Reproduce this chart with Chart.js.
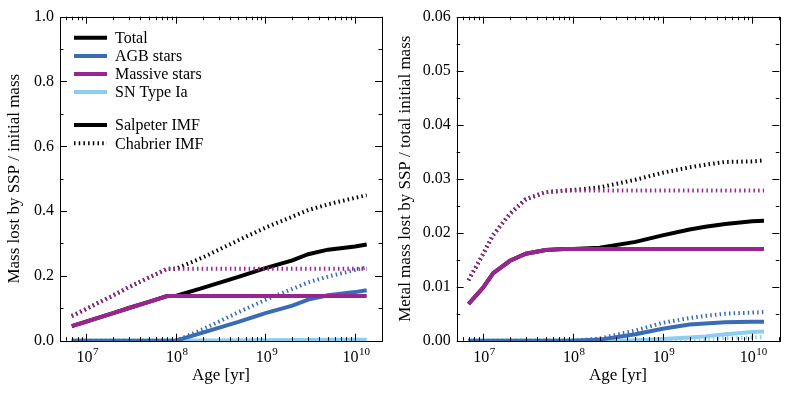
<!DOCTYPE html>
<html>
<head>
<meta charset="utf-8">
<script src="https://cdn.jsdelivr.net/npm/chart.js@4"></script>
<style>
  html, body { margin: 0; padding: 0; background: #fff; }
  #wrap { position: relative; width: 789px; height: 394px; }
  .panel { position: absolute; top: 0; }
</style>
</head>
<body>
<div id="wrap">
  <div class="panel" style="left:0px"><canvas id="massChart" width="395" height="394"></canvas></div>
  <div class="panel" style="left:395px"><canvas id="metalChart" width="394" height="394"></canvas></div>
</div>
<script>
// ages of the SSP [yr]
const ages = [6.9e6, 1e7, 1.3e7, 2e7, 3e7, 5e7, 8e7, 1e8, 2e8, 5e8, 1e9, 2e9, 3e9, 5e9, 1e10, 1.35e10];

// left panel: mass lost / initial mass
const massSalTotal   = [0.045, 0.059, 0.069, 0.085, 0.101, 0.120, 0.138, 0.138, 0.163, 0.197, 0.224, 0.248, 0.267, 0.281, 0.291, 0.297];
const massSalAGB     = [0, 0, 0, 0, 0, 0, 0, 0, 0.025, 0.058, 0.085, 0.108, 0.127, 0.140, 0.150, 0.156];
const massSalMassive = [0.045, 0.059, 0.069, 0.085, 0.101, 0.120, 0.138, 0.138, 0.138, 0.138, 0.138, 0.138, 0.138, 0.138, 0.138, 0.138];
const massSalSNIa    = [0, 0, 0, 0, 0, 0, 0, 0, 0.0003, 0.0008, 0.0012, 0.0018, 0.0022, 0.0026, 0.0030, 0.0032];
const massChaTotal   = [0.076, 0.098, 0.114, 0.140, 0.165, 0.195, 0.222, 0.222, 0.257, 0.310, 0.349, 0.383, 0.403, 0.421, 0.441, 0.449];
const massChaAGB     = [0, 0, 0, 0, 0, 0, 0, 0, 0.035, 0.088, 0.126, 0.160, 0.180, 0.198, 0.218, 0.226];
const massChaMassive = [0.076, 0.098, 0.114, 0.140, 0.165, 0.195, 0.222, 0.222, 0.222, 0.222, 0.222, 0.222, 0.222, 0.222, 0.222, 0.222];
const massChaSNIa    = [0, 0, 0, 0, 0, 0, 0, 0, 0.0001, 0.0003, 0.0005, 0.0008, 0.0010, 0.0012, 0.0014, 0.0015];

// right panel: metal mass lost / total initial mass
const metSalTotal   = [0.0068, 0.0098, 0.0125, 0.0148, 0.0161, 0.0168, 0.0170, 0.0170, 0.0172, 0.0183, 0.0195, 0.0206, 0.0211, 0.0216, 0.0221, 0.0222];
const metSalAGB     = [0, 0, 0, 0, 0, 0, 0, 0, 0.0002, 0.0012, 0.0022, 0.0030, 0.0032, 0.0034, 0.0035, 0.0035];
const metSalMassive = [0.0068, 0.0098, 0.0125, 0.0148, 0.0161, 0.0168, 0.0170, 0.0170, 0.0170, 0.0170, 0.0170, 0.0170, 0.0170, 0.0170, 0.0170, 0.0170];
const metSalSNIa    = [0, 0, 0, 0, 0, 0, 0, 0, 0, 0.0001, 0.0003, 0.0006, 0.0008, 0.0012, 0.0016, 0.0017];
const metChaTotal   = [0.0112, 0.0160, 0.0196, 0.0235, 0.0262, 0.0275, 0.0278, 0.0279, 0.0284, 0.0298, 0.0311, 0.0321, 0.0326, 0.0331, 0.0332, 0.0334];
const metChaAGB     = [0, 0, 0, 0, 0, 0, 0, 0, 0.0004, 0.0019, 0.0033, 0.0042, 0.0046, 0.0050, 0.0052, 0.0053];
const metChaMassive = [0.0112, 0.0160, 0.0196, 0.0235, 0.0262, 0.0275, 0.0278, 0.0278, 0.0278, 0.0278, 0.0278, 0.0278, 0.0278, 0.0278, 0.0278, 0.0278];
const metChaSNIa    = [0, 0, 0, 0, 0, 0, 0, 0, 0, 0, 0.0001, 0.0002, 0.0003, 0.0005, 0.0006, 0.0007];

// x tick labels: 10^n
const ageTicks = [1e7, 1e8, 1e9, 1e10];
const ageTickExp = ['7', '8', '9', '10'];

const legendLabels = ['Total', 'AGB stars', 'Massive stars', 'SN Type Ia', '', 'Salpeter IMF', 'Chabrier IMF'];

const BLACK = '#000000', BLUE = '#3a6cb5', PURPLE = '#9a2590', LIGHT = '#8ccdf0';
const DOTS = [1.5, 3.2];
const FONT = "'Liberation Serif', 'Times New Roman', serif";

Chart.defaults.font.family = FONT;
Chart.defaults.color = '#000';

function pts(vals) {
  return ages.map((a, i) => ({x: a, y: vals[i]}));
}

function makeSets(total, agb, massive, snia, dotted) {
  const dash = dotted ? DOTS : [];
  const base = dotted ? 1 : 0;
  const mk = (label, vals, color, order) => ({
    label: label, data: pts(vals), borderColor: color, borderWidth: 4,
    borderDash: dash, borderCapStyle: 'butt', pointRadius: 0, tension: 0,
    fill: false, order: order + base, clip: {left: 0, right: 0, top: 0, bottom: 1}
  });
  return [
    mk('Total', total, BLACK, 4),
    mk('AGB stars', agb, BLUE, 2),
    mk('Massive stars', massive, PURPLE, 0),
    mk('SN Type Ia', snia, LIGHT, 6)
  ];
}

// inward ticks on all four sides, the frame, and 10^n labels
const frameTicks = {
  id: 'frameTicks',
  afterDatasetsDraw(chart, args, opts) {
    const {ctx, chartArea: a, scales: {x, y}} = chart;
    ctx.save();
    ctx.strokeStyle = '#000';
    ctx.lineWidth = 1;
    ctx.beginPath();
    for (let n = 6; n <= 10; n++) {
      for (let k = 1; k <= 9; k++) {
        const v = k * Math.pow(10, n);
        if (v < x.min || v > x.max) continue;
        const px = Math.round(x.getPixelForValue(v)) + 0.5;
        const len = k === 1 ? 7 : 3.5;
        ctx.moveTo(px, a.bottom); ctx.lineTo(px, a.bottom - len);
        ctx.moveTo(px, a.top); ctx.lineTo(px, a.top + len);
      }
    }
    const nMinor = Math.round((y.max - y.min) / opts.minor);
    for (let i = 0; i <= nMinor; i++) {
      const v = y.min + i * opts.minor;
      const py = Math.round(y.getPixelForValue(v)) + 0.5;
      const len = i % 2 === 0 ? 7 : 3.5;
      ctx.moveTo(a.left, py); ctx.lineTo(a.left + len, py);
      ctx.moveTo(a.right, py); ctx.lineTo(a.right - len, py);
    }
    ctx.stroke();
    ctx.strokeRect(Math.round(a.left) + 0.5, Math.round(a.top) + 0.5,
      Math.round(a.right - a.left), Math.round(a.bottom - a.top));

    // decade labels with a raised exponent
    ctx.fillStyle = '#000';
    ctx.textBaseline = 'alphabetic';
    ageTicks.forEach((v, i) => {
      const px = x.getPixelForValue(v);
      ctx.font = '16px ' + FONT;
      const wb = ctx.measureText('10').width;
      ctx.font = '11px ' + FONT;
      const we = ctx.measureText(ageTickExp[i]).width;
      const x0 = px - (wb + we) / 2 + 1;
      ctx.font = '16px ' + FONT;
      ctx.textAlign = 'left';
      ctx.fillText('10', x0, a.bottom + 21);
      ctx.font = '11px ' + FONT;
      ctx.fillText(ageTickExp[i], x0 + wb + 0.5, a.bottom + 14);
    });
    ctx.restore();
  }
};

// legend drawn inside the left panel
const boxLegend = {
  id: 'boxLegend',
  afterDraw(chart, args, opts) {
    if (!opts.show) return;
    const {ctx, chartArea: a} = chart;
    const colors = [BLACK, BLUE, PURPLE, LIGHT, null, BLACK, BLACK];
    const dashes = [[], [], [], [], null, [], DOTS];
    const rows = [21, 39.3, 57.3, 75.3, 0, 108.3, 126.6];
    ctx.save();
    ctx.font = '16px ' + FONT;
    ctx.textBaseline = 'middle';
    legendLabels.forEach((lab, i) => {
      if (!lab) return;
      const yy = a.top + rows[i];
      ctx.beginPath();
      ctx.strokeStyle = colors[i];
      ctx.lineWidth = 4;
      ctx.lineCap = 'butt';
      ctx.setLineDash(dashes[i]);
      ctx.moveTo(a.left + 14, yy); ctx.lineTo(a.left + 47, yy);
      ctx.stroke();
      ctx.setLineDash([]);
      ctx.fillStyle = '#000';
      ctx.fillText(lab, a.left + 55, yy + 1);
    });
    ctx.restore();
  }
};

function makeChart(id, sets, yMax, yStep, digits, yTitle, yWidth, padRight, titlePad, showLegend) {
  return new Chart(document.getElementById(id), {
    type: 'line',
    data: {datasets: sets},
    options: {
      responsive: false,
      animation: false,
      devicePixelRatio: 1,
      layout: {padding: {left: 0, right: padRight, top: 16.7, bottom: 0}},
      plugins: {
        legend: {display: false},
        tooltip: {enabled: false},
        frameTicks: {minor: yStep / 2},
        boxLegend: {show: showLegend}
      },
      scales: {
        x: {
          type: 'logarithmic',
          min: 5.1e6, max: 2.0e10,
          grid: {display: false, drawTicks: false},
          border: {display: false},
          afterFit(scale) { scale.height = 53.3; },
          ticks: {display: false},
          title: {display: true, text: 'Age [yr]', font: {size: 17}, padding: {top: 0, bottom: 8}}
        },
        y: {
          type: 'linear',
          min: 0, max: yMax,
          grid: {display: false, drawTicks: false},
          border: {display: false},
          afterFit(scale) { scale.width = yWidth; },
          ticks: {
            stepSize: yStep, padding: 6,
            font: {size: 16},
            callback(v) { return v.toFixed(digits); }
          },
          title: {display: true, text: yTitle, font: {size: 17}, padding: {top: titlePad, bottom: 0}}
        }
      }
    },
    plugins: [frameTicks, boxLegend]
  });
}

makeChart('massChart',
  makeSets(massSalTotal, massSalAGB, massSalMassive, massSalSNIa, false)
    .concat(makeSets(massChaTotal, massChaAGB, massChaMassive, massChaSNIa, true)),
  1.0, 0.2, 1, 'Mass lost by SSP / initial mass', 60, 13, 4.5, true);

makeChart('metalChart',
  makeSets(metSalTotal, metSalAGB, metSalMassive, metSalSNIa, false)
    .concat(makeSets(metChaTotal, metChaAGB, metChaMassive, metChaSNIa, true)),
  0.06, 0.01, 2, 'Metal mass lost by SSP / total initial mass', 61.7, 9.7, 0.3, false);
</script>
</body>
</html>
